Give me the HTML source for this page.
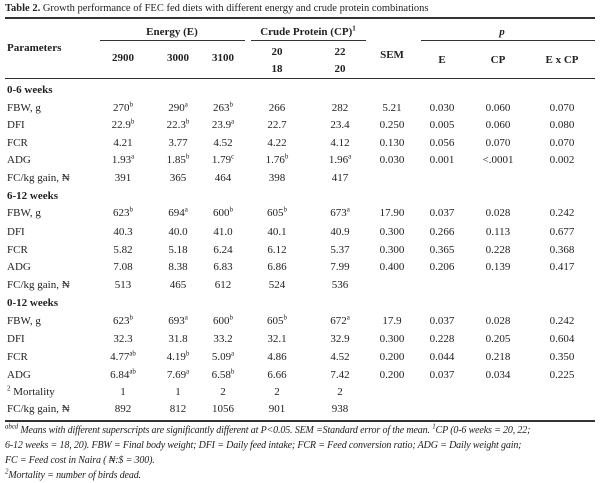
<!DOCTYPE html>
<html><head><meta charset="utf-8"><style>
body{margin:0;background:#fff;width:600px;height:482px;overflow:hidden;position:relative;font-family:"Liberation Serif",serif;color:#222}
.t{position:absolute;font-size:11px;white-space:nowrap;line-height:12px}
.c{transform:translateX(-50%)}
.b{font-weight:bold}
.ln{position:absolute;background:#333}
sup{font-size:7px;line-height:0}
.fn{position:absolute;left:5px;font-size:10px;font-style:italic;line-height:15px;white-space:nowrap;letter-spacing:-0.15px}
</style></head><body>
<div class="t" style="left:5px;top:3px;font-size:10.5px"><b>Table 2.</b> Growth performance of FEC fed diets with different energy and crude protein combinations</div>
<div class="ln" style="left:5px;top:17px;width:590px;height:2px"></div>
<div class="t b c" style="left:172px;top:26px">Energy (E)</div>
<div class="t b c" style="left:308px;top:26px">Crude Protein (CP)<sup>1</sup></div>
<div class="t b c" style="left:502px;top:26px;font-style:italic">p</div>
<div class="ln" style="left:100px;top:40px;width:145px;height:1px"></div>
<div class="ln" style="left:251px;top:40px;width:115px;height:1px"></div>
<div class="ln" style="left:421px;top:40px;width:174px;height:1px"></div>
<div class="t b" style="left:7px;top:42px">Parameters</div>
<div class="t b c" style="left:123px;top:52px">2900</div>
<div class="t b c" style="left:178px;top:52px">3000</div>
<div class="t b c" style="left:223px;top:52px">3100</div>
<div class="t b c" style="left:277px;top:46px">20</div>
<div class="t b c" style="left:277px;top:63px">18</div>
<div class="t b c" style="left:340px;top:46px">22</div>
<div class="t b c" style="left:340px;top:63px">20</div>
<div class="t b c" style="left:392px;top:49px">SEM</div>
<div class="t b c" style="left:442px;top:54px">E</div>
<div class="t b c" style="left:498px;top:54px">CP</div>
<div class="t b c" style="left:562px;top:54px">E x CP</div>
<div class="ln" style="left:5px;top:78px;width:590px;height:1px"></div>
<div id="body"></div>
<div class="ln" style="left:5px;top:420px;width:590px;height:2px"></div>
<div class="fn" style="top:423px"><sup>abcd</sup> Means with different superscripts are significantly different at P&lt;0.05. SEM =Standard error of the mean. <sup>1</sup>CP (0-6 weeks = 20, 22;<br>6-12 weeks = 18, 20). FBW = Final body weight; DFI = Daily feed intake; FCR = Feed conversion ratio; ADG = Daily weight gain;<br>FC = Feed cost in Naira ( ₦:$ = 300).<br><sup>2</sup>Mortality = number of birds dead.</div>
<script>
const rowLabels=["0-6 weeks","FBW, g","DFI","FCR","ADG","FC/kg gain, ₦","6-12 weeks","FBW, g","DFI","FCR","ADG","FC/kg gain, ₦","0-12 weeks","FBW, g","DFI","FCR","ADG","<sup>2</sup> Mortality","FC/kg gain, ₦"];
const rowValues=[null,
["270^b","290^a","263^b","266","282","5.21","0.030","0.060","0.070"],
["22.9^b","22.3^b","23.9^a","22.7","23.4","0.250","0.005","0.060","0.080"],
["4.21","3.77","4.52","4.22","4.12","0.130","0.056","0.070","0.070"],
["1.93^a","1.85^b","1.79^c","1.76^b","1.96^a","0.030","0.001","<.0001","0.002"],
["391","365","464","398","417"],
null,
["623^b","694^a","600^b","605^b","673^a","17.90","0.037","0.028","0.242"],
["40.3","40.0","41.0","40.1","40.9","0.300","0.266","0.113","0.677"],
["5.82","5.18","6.24","6.12","5.37","0.300","0.365","0.228","0.368"],
["7.08","8.38","6.83","6.86","7.99","0.400","0.206","0.139","0.417"],
["513","465","612","524","536"],
null,
["623^b","693^a","600^b","605^b","672^a","17.9","0.037","0.028","0.242"],
["32.3","31.8","33.2","32.1","32.9","0.300","0.228","0.205","0.604"],
["4.77^ab","4.19^b","5.09^a","4.86","4.52","0.200","0.044","0.218","0.350"],
["6.84^ab","7.69^a","6.58^b","6.66","7.42","0.200","0.037","0.034","0.225"],
["1","1","2","2","2"],
["892","812","1056","901","938"]];
const colX=[123,178,223,277,340,392,442,498,562];
const rowTop=[84,102,119,137,154,172,190,207,226,244,261,279,297,315,333,351,369,386,403];
const body=document.getElementById('body');
rowLabels.forEach((lab,i)=>{
  const l=document.createElement('div');
  l.className='t'+(rowValues[i]?'':' b');
  l.style.left='7px';l.style.top=rowTop[i]+'px';
  l.innerHTML=lab;
  
  
  body.appendChild(l);
  (rowValues[i]||[]).forEach((v,j)=>{
    const d=document.createElement('div');
    d.className='t c';
    d.style.left=colX[j]+'px';d.style.top=rowTop[i]+'px';
    const p=v.split('^');
    d.textContent=p[0];
    if(p[1]){const s=document.createElement('sup');s.textContent=p[1];d.appendChild(s);}
    
    
    body.appendChild(d);
  });
});
</script>
</body></html>
